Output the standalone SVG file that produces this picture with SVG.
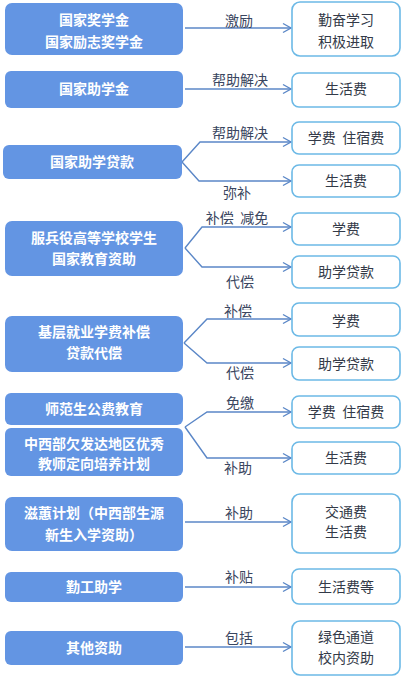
<svg xmlns="http://www.w3.org/2000/svg" width="403" height="677" viewBox="0 0 403 677">
<defs>
<style>
.lb{fill:#6395E3;}
.rb{fill:#FFFFFF;stroke:#6CB9E6;stroke-width:1.6;}
.lt{font-family:"Noto Sans CJK SC","Noto Sans",sans-serif;font-size:14px;font-weight:bold;fill:#FFFFFF;text-anchor:middle;}
.rt{font-family:"Noto Sans CJK SC","Noto Sans",sans-serif;font-size:14px;fill:#333A48;text-anchor:middle;}
.el{font-family:"Noto Sans CJK SC","Noto Sans",sans-serif;font-size:14px;fill:#3A4660;text-anchor:middle;}
.cn{fill:none;stroke:#5B87C7;stroke-width:1.4;}
</style>
<marker id="ah" markerUnits="userSpaceOnUse" markerWidth="12" markerHeight="12" viewBox="-10 -6 12 12" refX="0" refY="0" orient="auto">
<path d="M-8,-4.5 L0,0 L-8,4.5" fill="none" stroke="#5B87C7" stroke-width="1.4"/>
</marker>
</defs>
<rect width="403" height="677" fill="#FFFFFF"/>

<g id="connectors">
<path class="cn" marker-end="url(#ah)" d="M185,28 L291,28"/>
<path class="cn" marker-end="url(#ah)" d="M185,89 L291,89"/>
<path class="cn" marker-end="url(#ah)" d="M182,162 L200,142 L291,142"/>
<path class="cn" marker-end="url(#ah)" d="M182,162 L199,181 L291,181"/>
<path class="cn" marker-end="url(#ah)" d="M185,248 L202,227 L291,227"/>
<path class="cn" marker-end="url(#ah)" d="M185,248 L202,267 L291,267"/>
<path class="cn" marker-end="url(#ah)" d="M184,343 L207,319 L291,319"/>
<path class="cn" marker-end="url(#ah)" d="M184,343 L207,363 L291,363"/>
<path class="cn" marker-end="url(#ah)" d="M185,427 L207,412 L291,412"/>
<path class="cn" marker-end="url(#ah)" d="M185,427 L207,458 L291,458"/>
<path class="cn" marker-end="url(#ah)" d="M185,522 L291,522"/>
<path class="cn" marker-end="url(#ah)" d="M185,587 L291,587"/>
<path class="cn" marker-end="url(#ah)" d="M185,647 L291,647"/>
<text class="el" x="239" y="26">激励</text>
<text class="el" x="240" y="85">帮助解决</text>
<text class="el" x="240" y="138">帮助解决</text>
<text class="el" x="237" y="198">弥补</text>
<text class="el" x="237" y="223" xml:space="preserve">补偿  减免</text>
<text class="el" x="240" y="287">代偿</text>
<text class="el" x="238" y="316">补偿</text>
<text class="el" x="240" y="378">代偿</text>
<text class="el" x="240" y="408">免缴</text>
<text class="el" x="238" y="473">补助</text>
<text class="el" x="239" y="518">补助</text>
<text class="el" x="239" y="582">补贴</text>
<text class="el" x="239" y="643">包括</text>
</g>

<g id="n1"><rect class="lb" x="5" y="3" width="178" height="52" rx="7"/><text class="lt" x="94" y="25">国家奖学金</text><text class="lt" x="94" y="47">国家励志奖学金</text></g>
<g id="r1"><rect class="rb" x="292" y="2" width="108" height="54" rx="8"/><text class="rt" x="346" y="25">勤奋学习</text><text class="rt" x="346" y="47">积极进取</text></g>

<g id="n2"><rect class="lb" x="5" y="71" width="178" height="37" rx="6"/><text class="lt" x="94" y="94">国家助学金</text></g>
<g id="r2"><rect class="rb" x="292" y="73" width="108" height="34" rx="7"/><text class="rt" x="346" y="94">生活费</text></g>

<g id="n3"><rect class="lb" x="3" y="145" width="179" height="34" rx="6"/><text class="lt" x="92" y="167">国家助学贷款</text></g>
<g id="r3a"><rect class="rb" x="292" y="122" width="108" height="32" rx="7"/><text class="rt" x="346" y="143" xml:space="preserve">学费  住宿费</text></g>
<g id="r3b"><rect class="rb" x="292" y="165" width="108" height="32" rx="7"/><text class="rt" x="346" y="186">生活费</text></g>

<g id="n4"><rect class="lb" x="5" y="221" width="178" height="55" rx="7"/><text class="lt" x="94" y="243">服兵役高等学校学生</text><text class="lt" x="94" y="264">国家教育资助</text></g>
<g id="r4a"><rect class="rb" x="292" y="213" width="108" height="32" rx="7"/><text class="rt" x="346" y="234">学费</text></g>
<g id="r4b"><rect class="rb" x="292" y="256" width="108" height="32" rx="7"/><text class="rt" x="346" y="277">助学贷款</text></g>

<g id="n5"><rect class="lb" x="5" y="316" width="178" height="56" rx="7"/><text class="lt" x="94" y="337">基层就业学费补偿</text><text class="lt" x="94" y="358">贷款代偿</text></g>
<g id="r5a"><rect class="rb" x="292" y="303" width="108" height="33" rx="7"/><text class="rt" x="346" y="326">学费</text></g>
<g id="r5b"><rect class="rb" x="292" y="347" width="108" height="33" rx="7"/><text class="rt" x="346" y="369">助学贷款</text></g>

<g id="n6"><rect class="lb" x="5" y="393" width="178" height="32" rx="6"/><text class="lt" x="94" y="414">师范生公费教育</text></g>
<g id="n7"><rect class="lb" x="5" y="428" width="178" height="48" rx="6"/><text class="lt" x="94" y="449">中西部欠发达地区优秀</text><text class="lt" x="94" y="469">教师定向培养计划</text></g>
<g id="r6a"><rect class="rb" x="292" y="396" width="108" height="32" rx="7"/><text class="rt" x="346" y="417" xml:space="preserve">学费  住宿费</text></g>
<g id="r6b"><rect class="rb" x="292" y="442" width="108" height="32" rx="7"/><text class="rt" x="346" y="463">生活费</text></g>

<g id="n8"><rect class="lb" x="5" y="497" width="178" height="54" rx="7"/><text class="lt" x="94" y="518">滋蕙计划（中西部生源</text><text class="lt" x="94" y="540">新生入学资助）</text></g>
<g id="r8"><rect class="rb" x="292" y="494" width="108" height="59" rx="8"/><text class="rt" x="346" y="517">交通费</text><text class="rt" x="346" y="537">生活费</text></g>

<g id="n9"><rect class="lb" x="5" y="572" width="178" height="30" rx="6"/><text class="lt" x="94" y="592">勤工助学</text></g>
<g id="r9"><rect class="rb" x="292" y="569" width="108" height="35" rx="7"/><text class="rt" x="346" y="592">生活费等</text></g>

<g id="n10"><rect class="lb" x="5" y="631" width="178" height="34" rx="6"/><text class="lt" x="94" y="653">其他资助</text></g>
<g id="r10"><rect class="rb" x="292" y="621" width="108" height="54" rx="8"/><text class="rt" x="346" y="642">绿色通道</text><text class="rt" x="346" y="663">校内资助</text></g>
</svg>
